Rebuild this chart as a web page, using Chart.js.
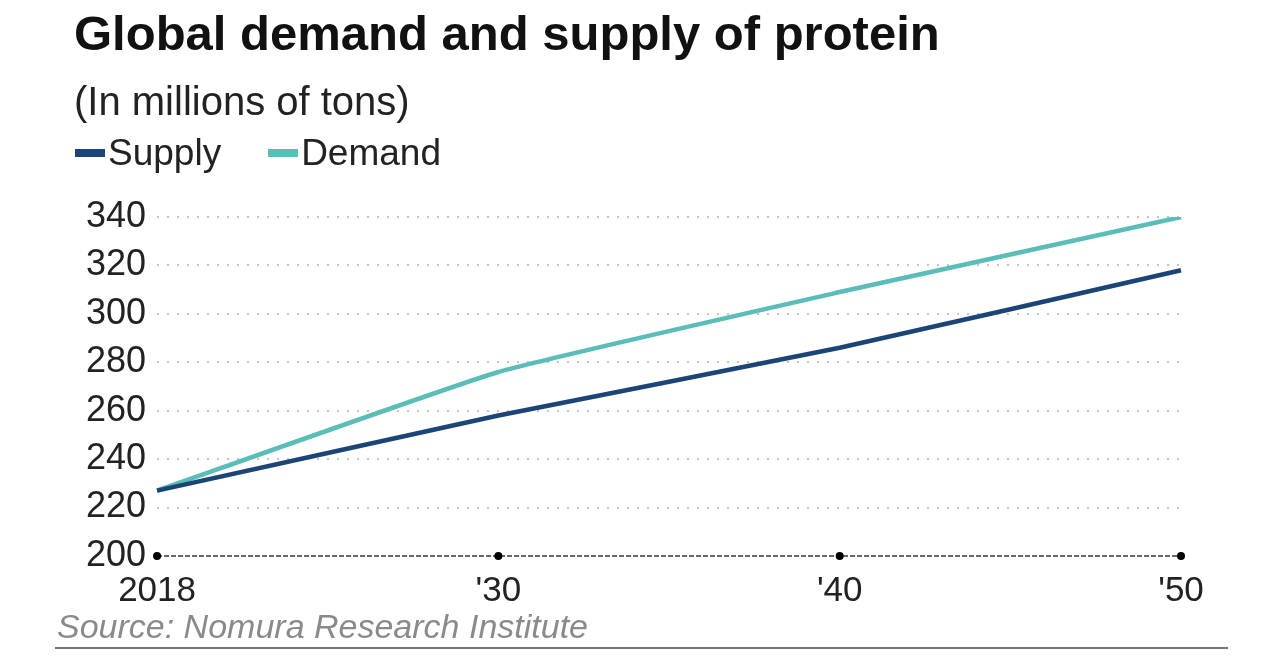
<!DOCTYPE html>
<html>
<head>
<meta charset="utf-8">
<script src="https://cdn.jsdelivr.net/npm/chart.js@4"></script>
<style>
  html, body { margin: 0; padding: 0; background: #fff; }
  #wrap { position: relative; width: 1280px; height: 670px; overflow: hidden; font-family: "Liberation Sans", Arial, sans-serif; color: #111; }
  #chart { position: absolute; left: 0; top: 0; }
  .title { position: absolute; left: 74px; top: 5px; font-size: 49px; font-weight: bold; white-space: nowrap; }
  .subtitle { position: absolute; left: 74px; top: 79px; font-size: 40px; color: #222; white-space: nowrap; }
  #legend { position: absolute; left: 75px; top: 132px; font-size: 37px; color: #222; white-space: nowrap; display: flex; }
  #legend .item { display: flex; align-items: center; margin-right: 47px; }
  #legend .box { width: 30px; height: 8px; margin-right: 3px; }
  .source { position: absolute; left: 57px; top: 607px; font-size: 34px; font-style: italic; color: #8a8a8a; white-space: nowrap; }
  .rule { position: absolute; left: 55px; top: 647px; width: 1173px; height: 2px; background: #777; }
</style>
</head>
<body>
<div id="wrap">
  <canvas id="chart" width="1280" height="670"></canvas>
  <div class="title">Global demand and supply of protein</div>
  <div class="subtitle">(In millions of tons)</div>
  <div id="legend"></div>
  <div class="source">Source: Nomura Research Institute</div>
  <div class="rule"></div>
</div>
<script>
const years = ['2018', "'30", "'40", "'50"];
const supply = [227, 258, 286, 318];
const demand = [227, 276, 309, 340];
const yTicks = [200, 220, 240, 260, 280, 300, 320, 340];

const supplyColor = '#1b4576';
const demandColor = '#5bbdb7';

// dashed baseline with black dots at every year tick
const axisDots = {
    id: 'axisDots',
    afterDatasetsDraw(chart) {
        const x = chart.scales.x;
        const ctx = chart.ctx;
        ctx.save();
        ctx.strokeStyle = '#666';
        ctx.lineWidth = 2;
        ctx.setLineDash([5, 2]);
        ctx.beginPath();
        ctx.moveTo(x.left, x.top);
        ctx.lineTo(x.right, x.top);
        ctx.stroke();
        ctx.fillStyle = '#000';
        x.ticks.forEach((t, i) => {
            ctx.beginPath();
            ctx.arc(x.getPixelForTick(i), x.top, 4, 0, Math.PI * 2);
            ctx.fill();
        });
        ctx.restore();
    }
};

const ctx = document.getElementById('chart').getContext('2d');
const chart = new Chart(ctx, {
    type: 'line',
    data: {
        labels: years,
        datasets: [
            {
                label: 'Supply',
                data: supply,
                borderColor: supplyColor,
                backgroundColor: supplyColor,
                borderWidth: 4.5,
                tension: 0.12,
                fill: false,
            },
            {
                label: 'Demand',
                data: demand,
                borderColor: demandColor,
                backgroundColor: demandColor,
                borderWidth: 4.5,
                tension: 0.12,
                fill: false,
            },
        ],
    },
    options: {
        responsive: false,
        animation: false,
        layout: {
            padding: { left: 75, right: 99, top: 217, bottom: 44 },
        },
        plugins: {
            legend: { display: false },
            tooltip: { enabled: false },
        },
        elements: {
            point: { radius: 0 },
        },
        scales: {
            x: {
                offset: false,
                grid: { display: false, drawTicks: false },
                border: { display: false },
                ticks: {
                    padding: 14,
                    color: '#222',
                    font: { family: '"Liberation Sans", Arial, sans-serif', size: 35 },
                    maxRotation: 0,
                },
            },
            y: {
                min: 200,
                max: 340,
                afterBuildTicks: (scale) => {
                    scale.ticks = yTicks.map(v => ({ value: v }));
                },
                grid: {
                    drawTicks: false,
                    lineWidth: 2,
                    color: (c) => (c.tick && c.tick.value === 200 ? 'rgba(0,0,0,0)' : '#c4c4c4'),
                },
                border: { display: false, dash: [2, 8] },
                ticks: {
                    padding: 11,
                    color: '#222',
                    font: { family: '"Liberation Sans", Arial, sans-serif', size: 36 },
                },
            },
        },
    },
    plugins: [axisDots],
});

// legend built from the datasets
const legendEl = document.getElementById('legend');
chart.data.datasets.forEach(ds => {
    const item = document.createElement('div');
    item.className = 'item';
    const box = document.createElement('span');
    box.className = 'box';
    box.style.background = ds.borderColor;
    const label = document.createElement('span');
    label.textContent = ds.label;
    item.appendChild(box);
    item.appendChild(label);
    legendEl.appendChild(item);
});
</script>
</body>
</html>
